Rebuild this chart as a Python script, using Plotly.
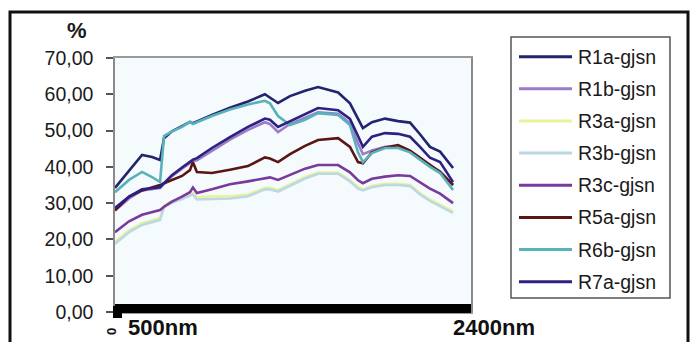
import plotly.graph_objects as go

# wavelength (nm) sample positions
wavelength = [350, 439, 521, 584, 635, 660, 710, 774, 824, 843, 868, 963, 1077, 1191,
              1298, 1330, 1381, 1457, 1552, 1634, 1761, 1836, 1887, 1918, 1975, 2058,
              2140, 2216, 2279, 2342, 2406, 2488]

R1a = [34.2, 39.1, 43.3, 42.7, 41.9, 47.9, 49.8, 51.2, 52.4, 52.0, 52.5, 54.3, 56.3, 58.0,
       60.0, 59.0, 57.6, 59.5, 61.0, 62.0, 60.5, 57.5, 53.5, 50.7, 52.3, 53.3, 52.6, 52.2,
       49.0, 45.5, 44.2, 39.7]
R1b = [28.0, 31.3, 33.5, 34.0, 34.2, 35.3, 37.4, 39.5, 41.0, 41.6, 41.8, 44.5, 47.5, 50.2,
       52.3, 51.8, 49.6, 51.8, 53.5, 55.0, 54.6, 52.0, 46.5, 43.5, 44.5, 45.5, 45.5, 44.3,
       42.5, 40.3, 38.8, 35.0]
R3a = [19.3, 22.5, 24.5, 25.3, 25.9, 29.3, 30.5, 31.5, 32.5, 32.8, 31.6, 31.9, 31.9, 32.4,
       34.2, 34.2, 33.6, 35.2, 37.2, 38.4, 38.4, 36.3, 34.5, 33.8, 34.8, 35.3, 35.3, 35.0,
       32.8, 31.0, 29.6, 27.7]
R3b = [18.8, 22.0, 24.0, 24.8, 25.4, 28.9, 30.1, 31.1, 32.1, 32.4, 31.0, 31.2, 31.3, 31.9,
       33.8, 33.8, 33.2, 34.8, 36.8, 38.1, 38.1, 36.0, 34.0, 33.5, 34.4, 35.0, 35.0, 34.7,
       32.4, 30.6, 29.2, 27.3]
R3c = [22.0, 25.0, 26.8, 27.5, 28.1, 29.0, 30.4, 31.8, 33.0, 34.3, 32.8, 33.8, 35.2, 36.0,
       37.0, 37.1, 36.4, 37.8, 39.5, 40.5, 40.5, 38.5, 36.3, 35.5, 36.7, 37.3, 37.7, 37.5,
       35.8, 34.0, 32.6, 30.0]
R5a = [28.0, 31.8, 33.5, 34.3, 35.0, 35.5, 36.4, 37.5, 39.1, 41.3, 38.6, 38.3, 39.2, 40.2,
       42.6, 42.3, 41.3, 43.5, 45.8, 47.4, 47.9, 45.5, 41.3, 41.0, 44.0, 45.3, 46.0, 44.5,
       42.5, 40.5, 38.6, 35.0]
R6b = [33.0, 36.4, 38.6, 37.2, 35.8, 48.5, 49.8, 51.0, 52.4, 51.8, 52.3, 54.0, 55.8, 57.2,
       58.2, 57.5, 54.0, 51.5, 53.0, 54.8, 54.3, 51.5, 44.0, 41.3, 43.8, 45.2, 45.2, 44.0,
       42.0, 40.0, 38.3, 33.6]
R7a = [28.7, 31.8, 33.8, 34.2, 34.4, 35.5, 37.7, 39.8, 41.3, 42.0, 42.4, 45.2, 48.2, 51.0,
       53.3, 53.0, 51.0, 52.5, 54.5, 56.2, 55.6, 53.2, 48.5, 45.5, 48.3, 49.3, 49.1, 48.3,
       45.5, 42.5, 41.3, 35.8]

names = ["R1a-gjsn", "R1b-gjsn", "R3a-gjsn", "R3b-gjsn", "R3c-gjsn", "R5a-gjsn", "R6b-gjsn", "R7a-gjsn"]
series = [R1a, R1b, R3a, R3b, R3c, R5a, R6b, R7a]
colors = ["#23236e", "#9c7cc6", "#eaf29a", "#bcd8e4", "#7a3a9c", "#5c1414", "#58b2ba", "#2c2082"]

y_ticks = [0, 10, 20, 30, 40, 50, 60, 70]

# layout geometry (pixels)
W, H = 693, 342
L, R, T, B = 115, 471, 58, 312


def px(x):
    return (x - L) / (R - L)


def py(y):
    return (B - y) / (B - T)


fig = go.Figure()
for name, vals, col in zip(names, series, colors):
    fig.add_trace(go.Scatter(x=wavelength, y=vals, name=name, mode="lines",
                             line=dict(color=col, width=2.6), showlegend=False))

font = "Liberation Sans, Arial, sans-serif"
shapes = []
annotations = []

# outer frame
shapes.append(dict(type="rect", xref="paper", yref="paper", x0=px(10), x1=px(688),
                   y0=py(352), y1=py(12), line=dict(color="#111", width=3), layer="below"))
# black bar at bottom (dense category ticks)
shapes.append(dict(type="rect", xref="paper", yref="paper", x0=0, x1=1, y0=py(313), y1=py(304),
                   fillcolor="black", line=dict(width=0)))
shapes.append(dict(type="rect", xref="paper", yref="paper", x0=px(113), x1=px(122), y0=py(318),
                   y1=py(306), fillcolor="black", line=dict(width=0)))

# legend box
leg_x0, leg_x1, leg_y0, leg_y1 = 511, 670, 37, 298
shapes.append(dict(type="rect", xref="paper", yref="paper", x0=px(leg_x0), x1=px(leg_x1),
                   y0=py(leg_y1), y1=py(leg_y0), fillcolor="white", line=dict(color="#555", width=1.5)))
row0, step = 56.7, 32.14
for i, (name, col) in enumerate(zip(names, colors)):
    yy = row0 + i * step
    shapes.append(dict(type="line", xref="paper", yref="paper", x0=px(519), x1=px(572),
                       y0=py(yy), y1=py(yy), line=dict(color=col, width=3)))
    annotations.append(dict(text=name, xref="paper", yref="paper", x=px(576), y=py(yy),
                            xanchor="left", yanchor="middle", showarrow=False,
                            font=dict(family=font, size=19.5, color="#1a1a1a")))

annotations += [
    dict(text="<b>%</b>", xref="paper", yref="paper", x=px(77), y=py(31), xanchor="center",
         yanchor="middle", showarrow=False, font=dict(family=font, size=22, color="#1a1a1a")),
    dict(text="<b>500nm</b>", xref="paper", yref="paper", x=px(126), y=py(327), xanchor="left",
         yanchor="middle", showarrow=False, font=dict(family=font, size=22, color="#111")),
    dict(text="<b>2400nm</b>", xref="paper", yref="paper", x=px(451), y=py(327), xanchor="left",
         yanchor="middle", showarrow=False, font=dict(family=font, size=22, color="#111")),
    dict(text="<b>0</b>", xref="paper", yref="paper", x=px(111), y=py(332), xanchor="center",
         yanchor="middle", textangle=-90, showarrow=False,
         font=dict(family=font, size=13, color="#111")),
]

fig.update_layout(
    width=W, height=H,
    margin=dict(l=L, r=W - R, t=T, b=H - B, pad=0),
    paper_bgcolor="white",
    plot_bgcolor="#f5fafc",
    separators=", ",
    shapes=shapes,
    annotations=annotations,
    showlegend=False,
    xaxis=dict(range=[350, 350 + (R - L) * 6.3245], showgrid=False, zeroline=False,
               showticklabels=False, ticks="", showline=True, mirror=True,
               linecolor="#9a9a9a", linewidth=1.5),
    yaxis=dict(range=[0, 70], tickvals=y_ticks, tickformat=".2f", showgrid=False,
               zeroline=False, showline=True, mirror=True, linecolor="#8a8a8a", linewidth=1.5,
               ticks="outside", ticklen=7, tickcolor="#555", tickwidth=1.5,
               ticklabelstandoff=9,
               tickfont=dict(family=font, size=19.5, color="#1a1a1a")),
)

fig.write_html("out.html")
